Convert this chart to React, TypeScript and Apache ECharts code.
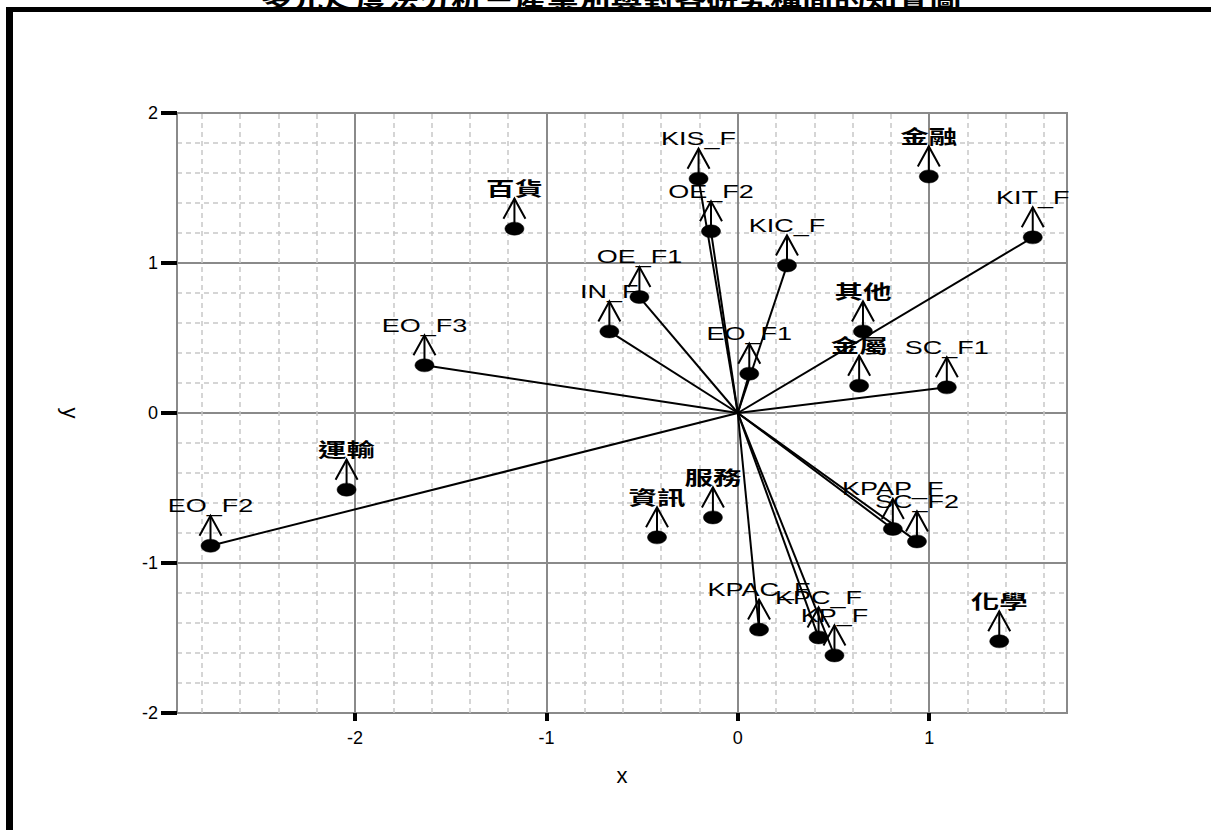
import React, { useEffect, useRef } from "react";
import * as echarts from "echarts";

const TITLE = "多元尺度法分析－產業別與對各研究構面的知覺圖";

// Attribute points (drawn with a vector from the origin)
const attrNames = ["KIS_F", "OE_F2", "KIC_F", "OE_F1", "IN_F", "EO_F1", "KIT_F", "EO_F3", "SC_F1", "EO_F2", "KPAP_F", "SC_F2", "KPAC_F", "KPC_F", "KP_F"];
const attrX = [-0.205, -0.14, 0.257, -0.514, -0.671, 0.06, 1.541, -1.637, 1.092, -2.755, 0.81, 0.936, 0.111, 0.422, 0.505];
const attrY = [1.562, 1.211, 0.984, 0.773, 0.544, 0.262, 1.171, 0.318, 0.171, -0.885, -0.773, -0.856, -1.444, -1.496, -1.616];

// Industry points (no vector)
const indNames = ["百貨", "金融", "其他", "金屬", "運輸", "資訊", "服務", "化學"];
const indX = [-1.167, 0.998, 0.654, 0.634, -2.044, -0.422, -0.13, 1.366];
const indY = [1.229, 1.577, 0.544, 0.182, -0.511, -0.829, -0.696, -1.522];

// Axis ranges and ticks
const X_MIN = -2.93;
const X_MAX = 1.72;
const Y_MIN = -2;
const Y_MAX = 2;
const xMajorTicks = [-2, -1, 0, 1];
const xMinorTicks = [-2.8, -2.6, -2.4, -2.2, -1.8, -1.6, -1.4, -1.2, -0.8, -0.6, -0.4, -0.2, 0.2, 0.4, 0.6, 0.8, 1.2, 1.4, 1.6];

const MAJOR = "#8a8a8a";
const MINOR = "#c8c8c8";
const TICK_FONT = '"Liberation Sans Narrow", "Liberation Sans", sans-serif';

const isCJK = (s: string) => /[\u3400-\u9fff]/.test(s);

export default function App() {
  const ref = useRef<HTMLDivElement>(null);
  useEffect(() => {
    if (!ref.current) return;
    const chart = echarts.init(ref.current, null, { renderer: "svg" });

    const allNames = [...attrNames, ...indNames];
    const allPts = [...attrX.map((x, i) => [x, attrY[i]]), ...indX.map((x, i) => [x, indY[i]])];

    const option: any = {
      animation: false,
      backgroundColor: "#fff",
      graphic: [
        {
          type: "text",
          x: 610.5,
          y: 9,
          scaleX: 1.45,
          z: 10,
          style: {
            text: TITLE,
            font: 'bold 22px "Noto Sans CJK TC"',
            align: "center",
            verticalAlign: "bottom",
            fill: "#000",
          },
        },
        { type: "rect", z: 11, shape: { x: 6, y: 7, width: 1205, height: 5 }, style: { fill: "#000" } },
        { type: "rect", z: 11, shape: { x: 6, y: 7, width: 7, height: 823 }, style: { fill: "#000" } },
      ],
      grid: {
        left: 177,
        top: 113,
        width: 890,
        height: 600,
        show: true,
        borderColor: MAJOR,
        borderWidth: 2,
        backgroundColor: "transparent",
      },
      xAxis: {
        type: "value",
        min: X_MIN,
        max: X_MAX,
        name: "x",
        nameLocation: "middle",
        nameGap: 51,
        nameTextStyle: { fontSize: 22, color: "#000", fontFamily: "Liberation Sans" },
        axisLine: { show: true, onZero: false, lineStyle: { color: MAJOR, width: 2 } },
        axisTick: { show: true, customValues: xMajorTicks, length: 8, lineStyle: { color: "#000", width: 4 } },
        axisLabel: { customValues: xMajorTicks, margin: 16, fontSize: 18, color: "#000", fontFamily: TICK_FONT },
        splitLine: { show: false },
      },
      yAxis: {
        type: "value",
        min: Y_MIN,
        max: Y_MAX,
        interval: 1,
        name: "y",
        nameLocation: "middle",
        nameRotate: -90,
        nameGap: 96,
        nameTextStyle: { fontSize: 22, color: "#000", fontFamily: "Liberation Sans" },
        axisLine: { show: true, onZero: false, lineStyle: { color: MAJOR, width: 2 } },
        axisTick: { show: true, length: 16, lineStyle: { color: "#000", width: 4 } },
        axisLabel: { margin: 19, fontSize: 18, color: "#000", fontFamily: TICK_FONT },
        splitLine: { show: true, lineStyle: { color: MAJOR, width: 2 } },
        minorTick: { show: false, splitNumber: 5 },
        minorSplitLine: { show: true, lineStyle: { color: MINOR, width: 1.5, type: [5, 4] } },
      },
      series: [
        {
          type: "scatter",
          data: [],
          silent: true,
          z: 1,
          markLine: {
            silent: true,
            z: 1,
            symbol: "none",
            label: { show: false },
            animation: false,
            data: [
              ...xMinorTicks.map((v) => ({ xAxis: v, lineStyle: { color: MINOR, width: 1.5, type: [5, 4] } })),
              ...xMajorTicks.map((v) => ({ xAxis: v, lineStyle: { color: MAJOR, width: 2, type: "solid" } })),
            ],
          },
        },
        {
          type: "custom",
          z: 8,
          silent: true,
          data: attrX.map((x, i) => [x, attrY[i]]),
          renderItem: (params: any, api: any) => {
            const o = api.coord([0, 0]);
            const p = api.coord([api.value(0), api.value(1)]);
            return {
              type: "line",
              shape: { x1: o[0], y1: o[1], x2: p[0], y2: p[1] },
              style: { stroke: "#000", lineWidth: 2 },
            };
          },
        },
        {
          type: "custom",
          z: 9,
          silent: true,
          data: allPts,
          renderItem: (params: any, api: any) => {
            const p = api.coord([api.value(0), api.value(1)]);
            const name = allNames[params.dataIndex];
            const cjk = isCJK(name);
            return {
              type: "group",
              children: [
                {
                  type: "line",
                  shape: { x1: p[0], y1: p[1] - 5, x2: p[0], y2: p[1] - 30 },
                  style: { stroke: "#000", lineWidth: 2 },
                },
                {
                  type: "polyline",
                  shape: { points: [[p[0] - 11, p[1] - 10], [p[0], p[1] - 30], [p[0] + 11, p[1] - 10]] },
                  style: { stroke: "#000", lineWidth: 2, fill: null },
                },
                {
                  type: "ellipse",
                  shape: { cx: p[0], cy: p[1], rx: 9.5, ry: 6.5 },
                  style: { fill: "#000", stroke: "#000", lineWidth: 0.5 },
                },
                {
                  type: "text",
                  x: p[0],
                  y: p[1] - 31,
                  scaleX: 1.5,
                  style: {
                    text: name,
                    font: cjk ? 'bold 19px "Noto Sans CJK TC"' : '18px "Liberation Sans"',
                    align: "center",
                    verticalAlign: "bottom",
                    fill: "#000",
                  },
                },
              ],
            };
          },
        },
      ],
    };
    chart.setOption(option);
    return () => chart.dispose();
  }, []);
  return (
    <div
      ref={ref}
      style={{ position: "absolute", left: 0, top: 0, width: 1211, height: 830, background: "#fff" }}
    />
  );
}
